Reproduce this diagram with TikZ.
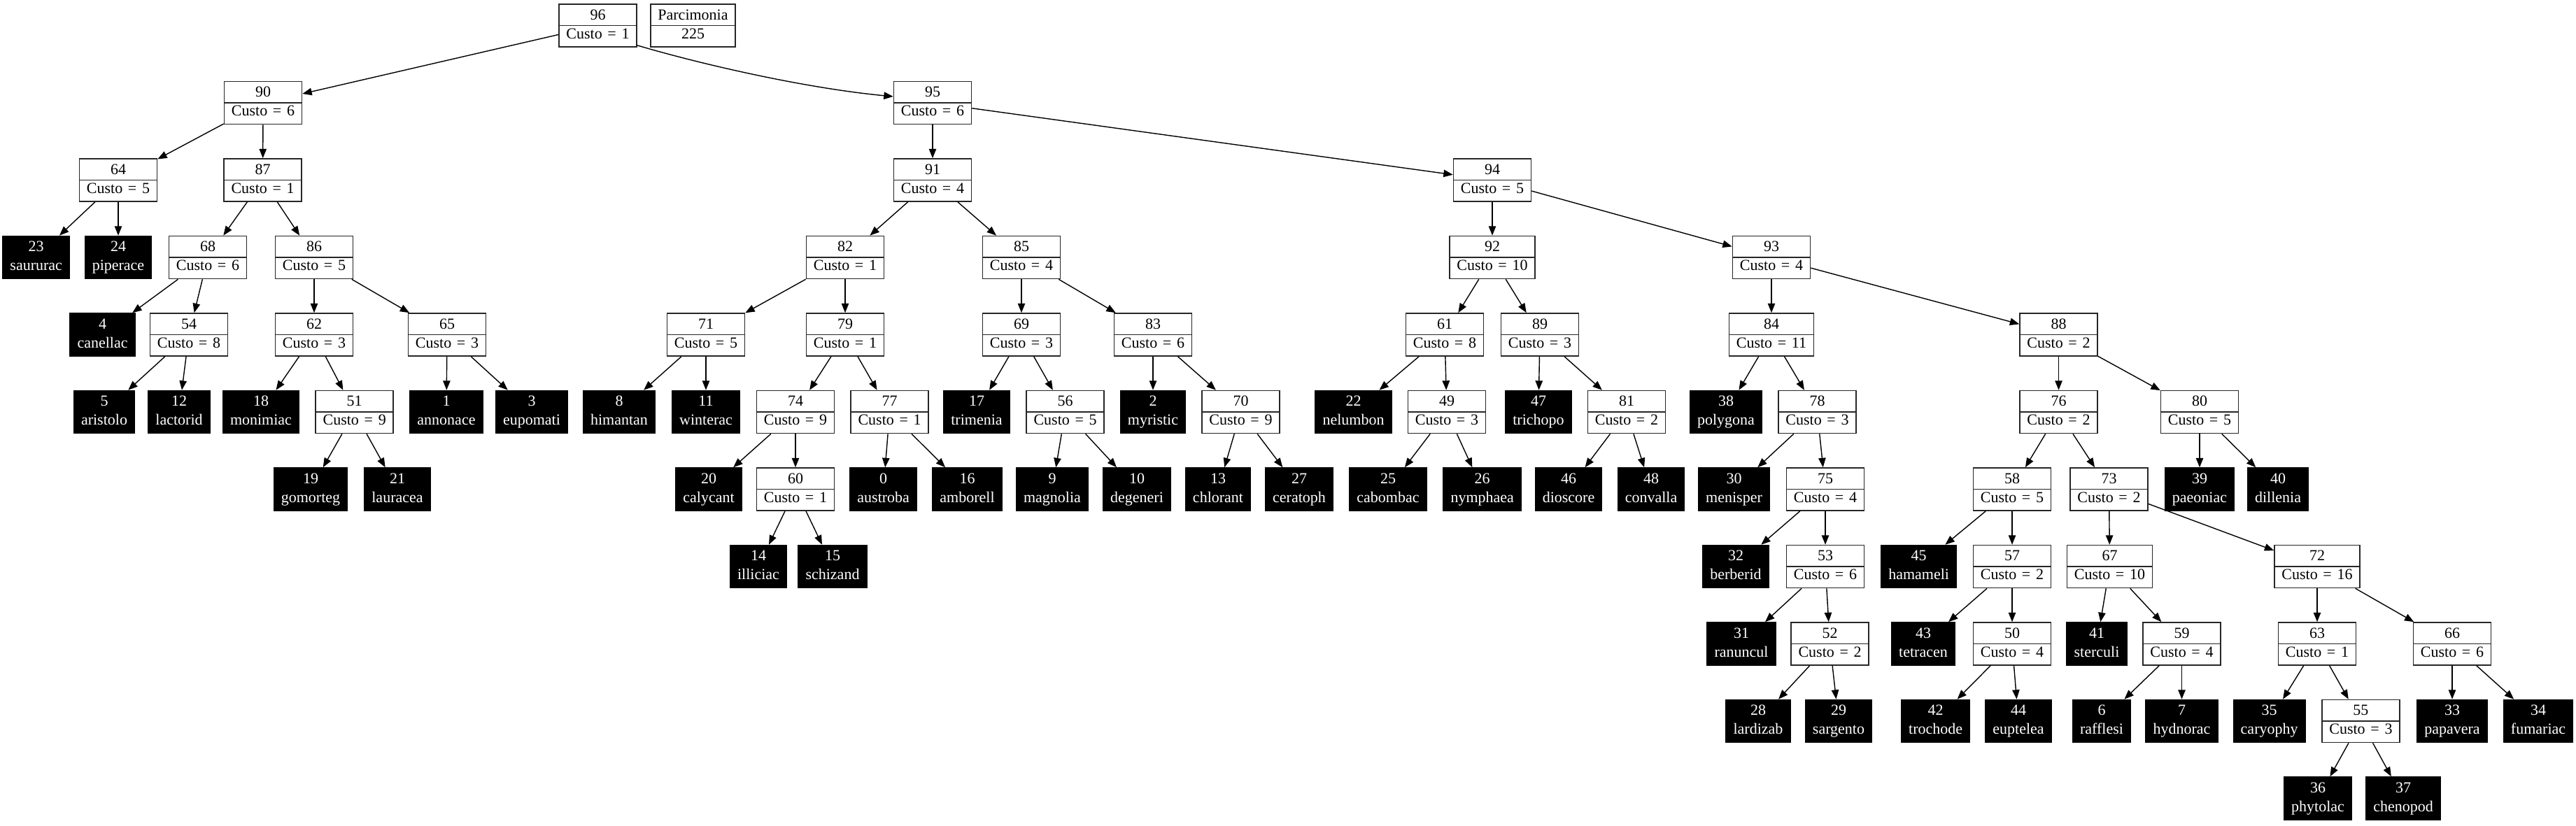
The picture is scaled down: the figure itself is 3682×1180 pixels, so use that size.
\documentclass[tikz,border=0pt]{standalone}
\usepackage{fontspec}
\setmainfont{Liberation Serif}[WordSpace=1.4]
\usetikzlibrary{arrows.meta}
\newcommand\rl[2]{\strut #1\\\strut Custo = #2}
\newcommand\lf[2]{\strut #1\\\strut #2}
\begin{document}
\begin{tikzpicture}[x=0.5pt,y=-0.5pt,
  base/.style={rectangle, minimum height=30.5pt, inner xsep=5.2pt, inner ysep=0pt,
    align=center, font=\fontsize{11}{13.5}\selectfont, line width=0.8pt},
  rec/.style={base, draw=black!85, fill=white,
    path picture={\draw[line width=0.8pt,black!85] (path picture bounding box.west) -- (path picture bounding box.east);}},
  leaf/.style={base, draw=black, fill=black, text=white},
  edge/.style={line width=0.7pt, -{Triangle[length=6.7pt,width=5.2pt]}}]
\useasboundingbox (0,0) rectangle (3682,1180);
% row 0
\node[rec] (n96) at (854.5,36.5) {\rl{96}{1}};
\node[rec] (parc) at (990.5,36.5) {\lf{Parcimonia}{225}};
% row 1
\node[rec] (n90) at (376,147) {\rl{90}{6}};
\node[rec] (n95) at (1333,147) {\rl{95}{6}};
% row 2
\node[rec] (n64) at (169,257.5) {\rl{64}{5}};
\node[rec] (n87) at (375.6,257.5) {\rl{87}{1}};
\node[rec] (n91) at (1333,257.5) {\rl{91}{4}};
\node[rec] (n94) at (2133,257.5) {\rl{94}{5}};
% row 3
\node[leaf] (n23) at (51.7,368) {\lf{23}{saururac}};
\node[leaf] (n24) at (169,368) {\lf{24}{piperace}};
\node[rec] (n68) at (297,368) {\rl{68}{6}};
\node[rec] (n86) at (449,368) {\rl{86}{5}};
\node[rec] (n82) at (1208,368) {\rl{82}{1}};
\node[rec] (n85) at (1460,368) {\rl{85}{4}};
\node[rec] (n92) at (2133,368) {\rl{92}{10}};
\node[rec] (n93) at (2532,368) {\rl{93}{4}};
% row 4
\node[leaf] (n4) at (146.6,478.5) {\lf{4}{canellac}};
\node[rec] (n54) at (270,478.5) {\rl{54}{8}};
\node[rec] (n62) at (449,478.5) {\rl{62}{3}};
\node[rec] (n65) at (639,478.5) {\rl{65}{3}};
\node[rec] (n71) at (1009,478.5) {\rl{71}{5}};
\node[rec] (n79) at (1208,478.5) {\rl{79}{1}};
\node[rec] (n69) at (1460,478.5) {\rl{69}{3}};
\node[rec] (n83) at (1648,478.5) {\rl{83}{6}};
\node[rec] (n61) at (2065,478.5) {\rl{61}{8}};
\node[rec] (n89) at (2201,478.5) {\rl{89}{3}};
\node[rec] (n84) at (2532,478.5) {\rl{84}{11}};
\node[rec] (n88) at (2942.5,478.5) {\rl{88}{2}};
% row 5
\node[leaf] (n5) at (149,589) {\lf{5}{aristolo}};
\node[leaf] (n12) at (256,589) {\lf{12}{lactorid}};
\node[leaf] (n18) at (373,589) {\lf{18}{monimiac}};
\node[rec] (n51) at (506.7,589) {\rl{51}{9}};
\node[leaf] (n1) at (638,589) {\lf{1}{annonace}};
\node[leaf] (n3) at (760,589) {\lf{3}{eupomati}};
\node[leaf] (n8) at (885,589) {\lf{8}{himantan}};
\node[leaf] (n11) at (1009,589) {\lf{11}{winterac}};
\node[rec] (n74) at (1137,589) {\rl{74}{9}};
\node[rec] (n77) at (1271.6,589) {\rl{77}{1}};
\node[leaf] (n17) at (1396,589) {\lf{17}{trimenia}};
\node[rec] (n56) at (1522.6,589) {\rl{56}{5}};
\node[leaf] (n2) at (1648,589) {\lf{2}{myristic}};
\node[rec] (n70) at (1773.5,589) {\rl{70}{9}};
\node[leaf] (n22) at (1934.5,589) {\lf{22}{nelumbon}};
\node[rec] (n49) at (2068,589) {\rl{49}{3}};
\node[leaf] (n47) at (2199,589) {\lf{47}{trichopo}};
\node[rec] (n81) at (2325,589) {\rl{81}{2}};
\node[leaf] (n38) at (2467,589) {\lf{38}{polygona}};
\node[rec] (n78) at (2597.5,589) {\rl{78}{3}};
\node[rec] (n76) at (2942.5,589) {\rl{76}{2}};
\node[rec] (n80) at (3144,589) {\rl{80}{5}};
% row 6
\node[leaf] (n19) at (444,699.5) {\lf{19}{gomorteg}};
\node[leaf] (n21) at (568,699.5) {\lf{21}{lauracea}};
\node[leaf] (n20) at (1013,699.5) {\lf{20}{calycant}};
\node[rec] (n60) at (1137,699.5) {\rl{60}{1}};
\node[leaf] (n0) at (1262.7,699.5) {\lf{0}{austroba}};
\node[leaf] (n16) at (1382.5,699.5) {\lf{16}{amborell}};
\node[leaf] (n9) at (1504,699.5) {\lf{9}{magnolia}};
\node[leaf] (n10) at (1625,699.5) {\lf{10}{degeneri}};
\node[leaf] (n13) at (1741,699.5) {\lf{13}{chlorant}};
\node[leaf] (n27) at (1857,699.5) {\lf{27}{ceratoph}};
\node[leaf] (n25) at (1984,699.5) {\lf{25}{cabombac}};
\node[leaf] (n26) at (2118.7,699.5) {\lf{26}{nymphaea}};
\node[leaf] (n46) at (2242,699.5) {\lf{46}{dioscore}};
\node[leaf] (n48) at (2360,699.5) {\lf{48}{convalla}};
\node[leaf] (n30) at (2478.5,699.5) {\lf{30}{menisper}};
\node[rec] (n75) at (2609,699.5) {\rl{75}{4}};
\node[rec] (n58) at (2876,699.5) {\rl{58}{5}};
\node[rec] (n73) at (3014.5,699.5) {\rl{73}{2}};
\node[leaf] (n39) at (3144,699.5) {\lf{39}{paeoniac}};
\node[leaf] (n40) at (3256,699.5) {\lf{40}{dillenia}};
% row 7
\node[leaf] (n14) at (1084,810) {\lf{14}{illiciac}};
\node[leaf] (n15) at (1190,810) {\lf{15}{schizand}};
\node[leaf] (n32) at (2481,810) {\lf{32}{berberid}};
\node[rec] (n53) at (2609,810) {\rl{53}{6}};
\node[leaf] (n45) at (2742.6,810) {\lf{45}{hamameli}};
\node[rec] (n57) at (2876,810) {\rl{57}{2}};
\node[rec] (n67) at (3015.5,810) {\rl{67}{10}};
\node[rec] (n72) at (3312,810) {\rl{72}{16}};
% row 8
\node[leaf] (n31) at (2489,920.5) {\lf{31}{ranuncul}};
\node[rec] (n52) at (2615.6,920.5) {\rl{52}{2}};
\node[leaf] (n43) at (2749,920.5) {\lf{43}{tetracen}};
\node[rec] (n50) at (2876,920.5) {\rl{50}{4}};
\node[leaf] (n41) at (2997,920.5) {\lf{41}{sterculi}};
\node[rec] (n59) at (3118.5,920.5) {\rl{59}{4}};
\node[rec] (n63) at (3312,920.5) {\rl{63}{1}};
\node[rec] (n66) at (3505,920.5) {\rl{66}{6}};
% row 9
\node[leaf] (n28) at (2513,1031) {\lf{28}{lardizab}};
\node[leaf] (n29) at (2628,1031) {\lf{29}{sargento}};
\node[leaf] (n42) at (2766.6,1031) {\lf{42}{trochode}};
\node[leaf] (n44) at (2885,1031) {\lf{44}{euptelea}};
\node[leaf] (n6) at (3004,1031) {\lf{6}{rafflesi}};
\node[leaf] (n7) at (3118.5,1031) {\lf{7}{hydnorac}};
\node[leaf] (n35) at (3243.6,1031) {\lf{35}{caryophy}};
\node[rec] (n55) at (3374.4,1031) {\rl{55}{3}};
\node[leaf] (n33) at (3505,1031) {\lf{33}{papavera}};
\node[leaf] (n34) at (3628,1031) {\lf{34}{fumariac}};
% row 10
\node[leaf] (n36) at (3313,1141.5) {\lf{36}{phytolac}};
\node[leaf] (n37) at (3435,1141.5) {\lf{37}{chenopod}};
% edges
\draw[edge] ([yshift=1.5pt]n96.south east) .. controls +(91,27) and +(-126,-12) .. ([yshift=4.5pt]n95.west);
\foreach \a/\b in {96/90, 90/64, 90/87, 64/23, 64/24, 87/68, 87/86, 68/4, 68/54,
  54/5, 54/12, 86/62, 86/65, 62/18, 62/51, 51/19, 51/21, 65/1, 65/3,
  95/91, 95/94, 91/82, 91/85, 82/71, 82/79, 71/8, 71/11, 79/74, 79/77,
  74/20, 74/60, 60/14, 60/15, 77/0, 77/16, 85/69, 85/83, 69/17, 69/56,
  56/9, 56/10, 83/2, 83/70, 70/13, 70/27, 94/92, 94/93, 92/61, 92/89,
  61/22, 61/49, 49/25, 49/26, 89/47, 89/81, 81/46, 81/48, 93/84, 93/88,
  84/38, 84/78, 78/30, 78/75, 75/32, 75/53, 53/31, 53/52, 52/28, 52/29,
  88/76, 88/80, 76/58, 76/73, 58/45, 58/57, 57/43, 57/50, 50/42, 50/44,
  73/67, 73/72, 67/41, 67/59, 59/6, 59/7, 72/63, 72/66, 63/35, 63/55,
  55/36, 55/37, 66/33, 66/34, 80/39, 80/40}
  \draw[edge] (n\a) -- (n\b);
\end{tikzpicture}
\end{document}
